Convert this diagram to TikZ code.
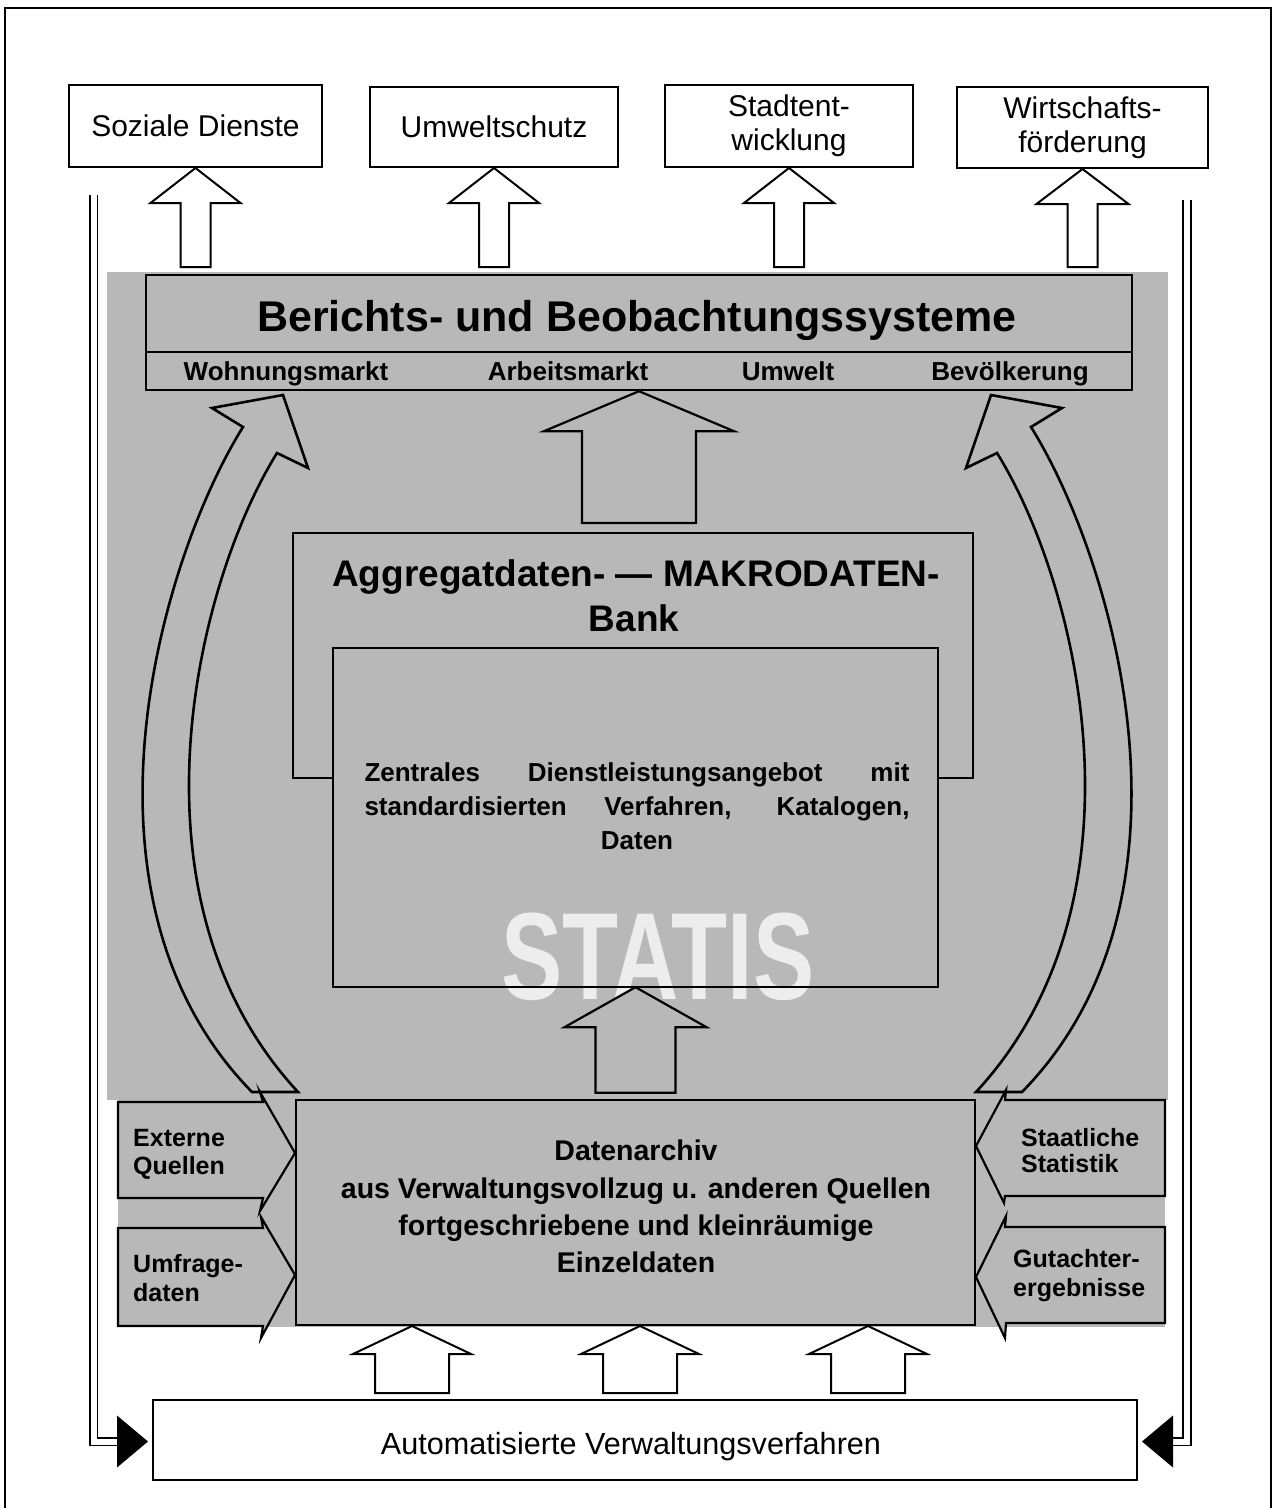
\documentclass[tikz,border=0pt]{standalone}
\usepackage{fontspec}
\setmainfont{Liberation Sans}
\usetikzlibrary{calc}
\definecolor{screen}{gray}{0.72}

% hollow block arrow: style, base point, tip point, head half width, shaft half width, head length
\newcommand\hollowarrow[6]{%
  \draw[#1] let \p1=(#2), \p2=(#3) in
    (\x2,\y2) -- (\x2+#4,\y2-#6) -- (\x2+#5,\y2-#6) -- (\x2+#5,\y1)
    -- (\x2-#5,\y1) -- (\x2-#5,\y2-#6) -- (\x2-#4,\y2-#6) -- cycle;}

% curved feedback arrow (left version, mirrored for the right side)
\newcommand\bigarcpath{%
  (252,1092) .. controls (62,898) and (160,560) .. (243,427)
  -- (212,408) -- (283,395) -- (308,468) -- (277,453)
  .. controls (195,585) and (120,900) .. (298,1092) -- cycle}

\begin{document}
\begin{tikzpicture}[x=1pt,y=-1pt,
  every node/.style={inner sep=0pt},
  outbox/.style={draw, line width=2pt, fill=white, align=center,
                 font=\fontsize{30}{34}\selectfont},
  scrbox/.style={draw, line width=2.4pt, fill=screen},
  hollow/.style={draw, line width=2pt, fill=white, line join=miter},
  hollowscr/.style={draw, line width=2.2pt, fill=screen, line join=miter},
  arcarrow/.style={draw, line width=2.6pt, fill=screen, line join=miter},
  chevron/.style={draw, line width=2.2pt, fill=screen, line join=miter},
  lbl/.style={font=\fontsize{26}{29}\selectfont\bfseries, anchor=base},
  archlbl/.style={font=\fontsize{28.5}{31}\selectfont\bfseries, anchor=base},
  bigttl/.style={font=\fontsize{37}{40}\selectfont\bfseries, anchor=base},
  sidelbl/.style={font=\fontsize{25}{28}\selectfont\bfseries, anchor=base west},
  dbl/.style={double=white, double distance=6pt, line width=1.6pt}]

\useasboundingbox (0,0) rectangle (1281,1508);

% screened background
\fill[screen] (107,272) rectangle (1168,1100);
\fill[screen] (118,1100) rectangle (1165,1327);

% application areas
\node[outbox, minimum width=253pt, minimum height=82pt] (soz) at (195.5,126) {Soziale Dienste};
\node[outbox, minimum width=248pt, minimum height=80pt] (umw) at (494,127) {Umweltschutz};
\node[outbox, minimum width=248pt, minimum height=82pt] (std) at (789,126) {Stadtent-\\wicklung};
\node[outbox, minimum width=251pt, minimum height=81pt] (wir) at (1082.5,127.5) {Wirtschafts-\\förderung};

% reporting systems
\node[scrbox, minimum width=986pt, minimum height=115pt] (ber) at (639,332.5) {};
\coordinate (bdl) at (146,352);
\coordinate (bdr) at (1132,352);
\draw[line width=2.4pt] (bdl) -- (bdr);
\node[font=\fontsize{43}{46}\selectfont\bfseries, anchor=base] (bertitle) at (637,331) {Berichts- und Beobachtungssysteme};
\node[lbl] (wm) at (286,380) {Wohnungsmarkt};
\node[lbl] (am) at (568,380) {Arbeitsmarkt};
\node[lbl] (uw) at (788,380) {Umwelt};
\node[lbl] (bv) at (1010,380) {Bevölkerung};

% arrows up to the application areas
\coordinate (t1) at (195.5,267);
\coordinate (t2) at (494,267);
\coordinate (t3) at (789,267);
\coordinate (t4) at (1082.5,267);
\hollowarrow{hollow}{t1}{soz.south}{45}{15}{35}
\hollowarrow{hollow}{t2}{umw.south}{45}{15}{35}
\hollowarrow{hollow}{t3}{std.south}{45}{15}{35}
\hollowarrow{hollow}{t4}{wir.south}{46}{15}{35}

% macro data bank
\coordinate (c1) at (639,523);
\hollowarrow{hollowscr}{c1}{ber.south}{95}{57}{40}
\node[scrbox, minimum width=680pt, minimum height=245pt] (agg) at (633,655.5) {};
\node[bigttl] (aggt) at (636,586) {Aggregatdaten- --- MAKRODATEN-};
\node[bigttl] (bank) at (634,631) {Bank};

% central service box
\node[fill=screen, minimum width=605pt, minimum height=339pt] (zen) at (635.5,817.5) {};
\node[text=white, opacity=0.75, xscale=0.74, font=\fontsize{124}{124}\selectfont\bfseries] (statis) at (658,957) {STATIS};
\node[draw, line width=2.4pt, minimum width=605pt, minimum height=339pt] (zenframe) at (635.5,817.5) {};
\node[lbl] (z1) at (637,781) {\makebox[545pt][s]{Zentrales Dienstleistungsangebot mit}};
\node[lbl] (z2) at (637,815) {\makebox[545pt][s]{standardisierten Verfahren, Katalogen,}};
\node[lbl] (z3) at (637,849) {Daten};

% data archive
\node[scrbox, minimum width=679pt, minimum height=225pt] (arch) at (635.5,1212.5) {};
\coordinate (c2) at ($(arch.north)+(0,-6)$);
\hollowarrow{hollowscr}{c2}{zen.south}{71}{40}{40}
\node[archlbl] (a1) at (636,1160) {Datenarchiv};
\node[archlbl] (a2) at (636,1198) {aus Verwaltungsvollzug u. anderen Quellen};
\node[archlbl] (a3) at (636,1235) {fortgeschriebene und kleinräumige};
\node[archlbl] (a4) at (636,1272) {Einzeldaten};

% feedback arcs from the archive to the reporting systems
\draw[arcarrow] \bigarcpath;
\begin{scope}[xshift=1274pt, xscale=-1]
  \draw[arcarrow] \bigarcpath;
\end{scope}

% external sources feeding the archive
\draw[chevron] (118,1102) -- (263,1102) -- (260,1092) -- (295,1153) -- (260,1211) -- (263,1198) -- (118,1198) -- cycle;
\draw[chevron] (118,1228) -- (263,1228) -- (261,1217) -- (295,1275) -- (261,1338) -- (263,1326) -- (118,1326) -- cycle;
\draw[chevron] (1165,1100) -- (1005,1100) -- (1006,1090) -- (976,1146) -- (1004,1203) -- (1005,1196) -- (1165,1196) -- cycle;
\draw[chevron] (1165,1227) -- (1005,1227) -- (1006,1216) -- (976,1277) -- (1005,1338) -- (1006,1323) -- (1165,1323) -- cycle;
\node[sidelbl] (ext1) at (133,1146) {Externe};
\node[sidelbl] (ext2) at (133,1174) {Quellen};
\node[sidelbl] (umf1) at (133,1272) {Umfrage-};
\node[sidelbl] (umf2) at (133,1301) {daten};
\node[sidelbl] (sta1) at (1021,1146) {Staatliche};
\node[sidelbl] (sta2) at (1021,1172) {Statistik};
\node[sidelbl] (gut1) at (1013,1267) {Gutachter-};
\node[sidelbl] (gut2) at (1013,1296) {ergebnisse};

% automated procedures
\node[draw, line width=2pt, fill=white, minimum width=984pt, minimum height=80pt] (auto) at (645,1440) {};
\node[font=\fontsize{30.6}{34}\selectfont, anchor=base] (autot) at (631,1454) {Automatisierte Verwaltungsverfahren};
\coordinate (b1) at (412,1326);
\coordinate (b2) at (640,1326);
\coordinate (b3) at (868,1326);
\coordinate (f1) at (412,1393);
\coordinate (f2) at (640,1393);
\coordinate (f3) at (868,1393);
\hollowarrow{hollow}{f1}{b1}{59}{37}{28}
\hollowarrow{hollow}{f2}{b2}{59}{37}{28}
\hollowarrow{hollow}{f3}{b3}{59}{37}{28}

% return lines from the application areas
\coordinate (lt) at (93.5,195);
\coordinate (lb) at (121,1441.5);
\coordinate (rt) at (1187,200);
\coordinate (rb) at (1170,1441.5);
\draw[dbl] (lt) |- (lb);
\draw[dbl] (rt) |- (rb);
\fill ($(auto.west)+(-4,1.5)$) -- ++(-31,-26) -- ++(0,52) -- cycle;
\fill ($(auto.east)+(4,1.5)$) -- ++(31,-26) -- ++(0,52) -- cycle;

% outer frame
\draw[line width=2pt] (5,1508) -- (5,8) -- (1271,8) -- (1271,1508);
\end{tikzpicture}
\end{document}
